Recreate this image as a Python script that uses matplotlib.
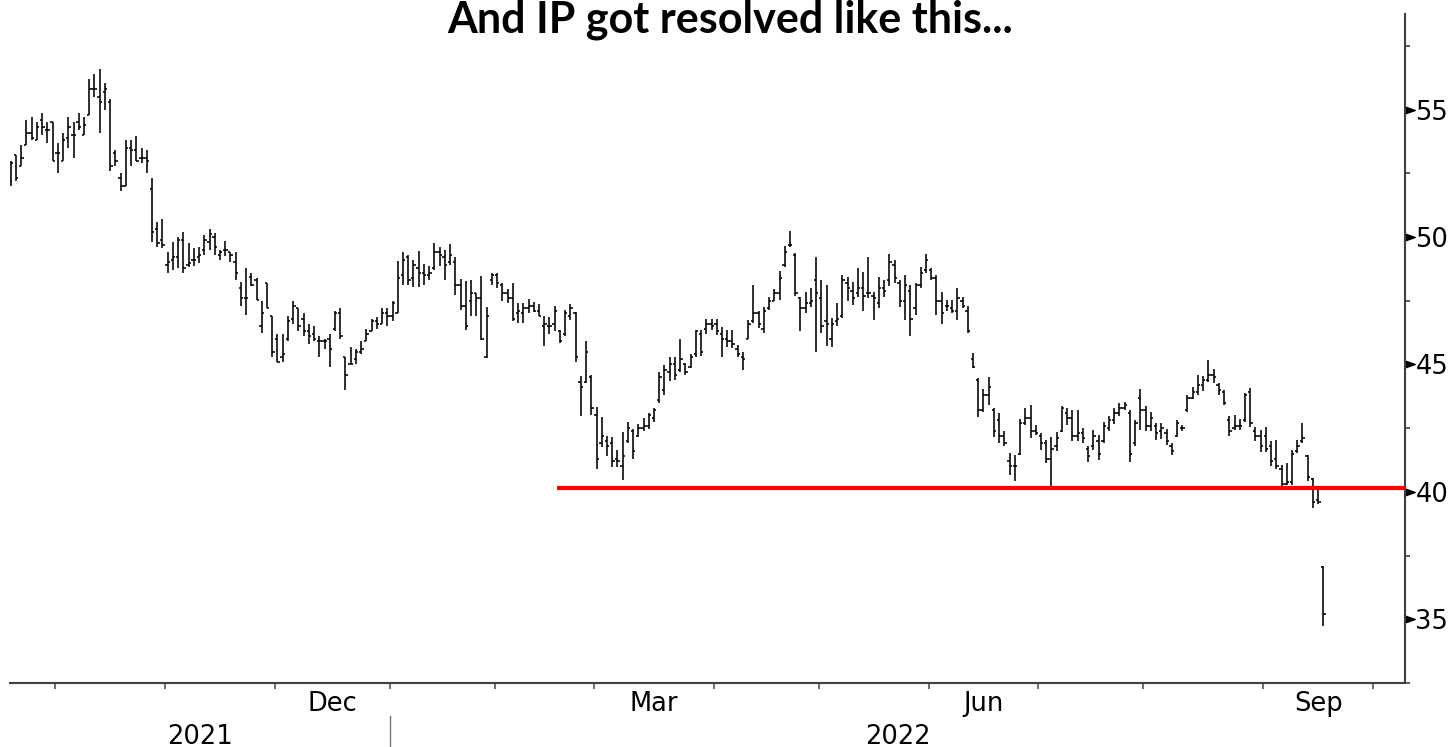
import numpy as np
import pandas as pd
import matplotlib
matplotlib.use("Agg")
import matplotlib.pyplot as plt
from matplotlib.collections import LineCollection
import matplotlib.transforms as mtransforms

plt.rcParams["font.family"] = "DejaVu Sans"

# IP daily bars from 20 Sep 2021
opens = [
    52.2, 53.2, 52.8, 53.6, 54.1, 53.8, 54.6, 54.2, 54.5, 53.3, 53.0, 53.9,
    54.0, 54.5, 54.0, 54.8, 55.8, 55.5, 55.7, 55.3, 53.3, 52.3, 52.0, 53.5,
    53.4, 53.1, 53.1, 51.9, 50.3, 49.9, 48.9, 49.1, 49.2, 49.9, 48.9, 49.1,
    49.2, 49.5, 49.8, 50.0, 49.3, 49.5, 49.4, 49.0, 48.0, 47.6, 48.45, 48.3,
    46.5, 48.2, 46.9, 46.0, 45.3, 46.0, 46.8, 47.2, 46.8, 46.3, 46.2, 45.9,
    45.9, 46.0, 46.4, 47.0, 45.3, 45.0, 45.2, 45.5, 45.9, 46.3, 46.7, 46.6,
    47.0, 46.9, 47.0, 48.5, 49.2, 48.4, 48.8, 48.6, 48.5, 48.8, 49.4, 49.2,
    49.0, 49.0, 48.1, 47.3, 47.5, 47.8, 47.6, 45.3, 48.3, 48.5, 48.1, 47.8,
    47.6, 47.0, 47.0, 47.2, 47.3, 47.1, 46.5, 46.5, 46.6, 46.3, 46.2, 46.9,
    47.0, 44.3, 44.3, 44.5, 43.0, 41.9, 42.0, 41.9, 41.3, 41.0, 42.0, 42.4,
    42.2, 42.5, 42.6, 42.9, 43.6, 44.0, 44.7, 45.0, 44.8, 45.0, 44.9, 45.4,
    46.2, 46.4, 46.6, 46.6, 46.2, 46.0, 45.9, 45.6, 45.3, 46.0, 46.7, 47.0,
    46.4, 47.2, 47.5, 47.8, 48.9, 49.7, 49.3, 47.6, 47.2, 47.4, 48.3, 47.6,
    46.7, 46.0, 46.7, 46.9, 48.2, 47.9, 47.8, 48.0, 47.8, 47.7, 47.4, 48.0,
    48.3, 48.9, 48.2, 47.5, 47.9, 47.2, 48.1, 48.7, 48.7, 48.4, 47.5, 47.3,
    47.2, 47.1, 47.5, 47.1, 45.2, 44.4, 43.2, 43.8, 43.2, 42.8, 42.2, 41.2,
    41.0, 41.5, 42.7, 42.9, 42.4, 42.2, 41.9, 41.3, 41.8, 42.4, 43.1, 42.9,
    42.2, 42.3, 41.7, 41.8, 42.0, 42.0, 42.5, 42.8, 43.1, 43.3, 43.1, 41.9,
    43.7, 43.2, 42.6, 42.6, 42.4, 42.3, 41.8, 42.2, 42.5, 43.2, 43.7, 43.9,
    44.2, 44.4, 44.6, 44.2, 43.9, 42.8, 42.5, 42.6, 42.8, 43.9, 42.4, 42.2,
    42.2, 41.8, 41.3, 40.9, 40.3, 40.4, 41.6, 42.0, 41.4, 40.5, 39.7, 37.05,
]
highs = [
    53.0, 53.2, 53.6, 54.6, 54.7, 54.5, 54.85, 54.5, 54.5, 53.7, 54.1, 54.7,
    54.5, 54.85, 54.7, 56.2, 56.4, 56.6, 56.05, 55.4, 53.4, 52.5, 53.8, 53.8,
    53.95, 53.5, 53.4, 52.3, 50.6, 50.7, 49.4, 49.8, 50.0, 50.2, 49.75, 49.56,
    49.6, 50.08, 50.3, 50.15, 49.5, 49.86, 49.4, 49.4, 48.25, 48.77, 48.58, 48.38,
    47.47, 48.2, 46.9, 46.2, 46.2, 46.9, 47.5, 47.2, 47.0, 46.6, 46.5, 46.1,
    46.0, 46.2, 47.1, 47.2, 45.3, 45.7, 45.6, 45.9, 46.4, 46.8, 46.85, 47.2,
    47.2, 47.5, 49.07, 49.4, 49.3, 49.1, 49.46, 48.94, 48.86, 49.75, 49.6, 49.5,
    49.72, 49.2, 48.37, 48.28, 48.33, 47.8, 48.46, 47.26, 48.57, 48.6, 48.2, 47.95,
    48.2, 47.4, 47.42, 47.55, 47.46, 47.37, 46.9, 46.85, 47.3, 46.35, 47.13, 47.37,
    47.07, 44.56, 45.9, 44.6, 43.34, 42.95, 42.2, 42.17, 41.64, 42.36, 42.75, 42.45,
    42.66, 42.88, 43.1, 43.3, 44.7, 44.98, 45.3, 45.3, 45.98, 45.07, 45.4, 46.35,
    46.35, 46.8, 46.8, 46.77, 46.48, 46.35, 46.35, 45.76, 45.5, 46.75, 48.12, 47.1,
    47.27, 47.64, 47.95, 48.68, 49.65, 50.25, 49.36, 47.66, 47.86, 47.99, 49.2, 48.32,
    48.12, 46.82, 47.4, 48.51, 48.45, 48.25, 48.77, 48.64, 49.2, 47.86, 48.45, 48.32,
    49.34, 49.1, 48.32, 48.51, 48.12, 48.2, 48.84, 49.34, 48.77, 48.51, 47.86, 47.53,
    47.53, 47.99, 47.66, 47.3, 45.44, 44.46, 44.03, 44.5, 43.28, 43.11, 42.37, 41.52,
    41.45, 42.85, 43.28, 43.41, 42.63, 42.3, 42.04, 42.17, 42.33, 43.37, 43.28, 43.2,
    43.2, 42.5, 41.78, 42.43, 42.24, 42.76, 42.98, 43.28, 43.48, 43.54, 43.2, 42.82,
    44.03, 43.35, 43.15, 42.69, 42.69, 42.46, 41.91, 42.82, 42.63, 43.8, 44.13, 44.59,
    44.55, 45.18, 44.81, 44.26, 43.98, 42.98, 43.02, 42.85, 43.87, 44.07, 42.56, 42.43,
    42.54, 41.98, 42.02, 41.06, 41.13, 41.65, 42.04, 42.7, 41.45, 40.54, 40.08, 37.1,
]
lows = [
    52.0, 52.2, 52.8, 53.6, 53.8, 53.8, 54.0, 53.7, 53.0, 52.5, 53.0, 53.5,
    53.1, 54.2, 54.0, 54.8, 55.5, 54.1, 55.0, 52.6, 52.8, 51.8, 52.0, 52.8,
    53.0, 52.9, 52.5, 49.8, 49.6, 49.55, 48.6, 48.7, 48.8, 48.6, 48.84, 48.87,
    48.97, 49.3, 49.5, 49.3, 49.1, 49.26, 49.0, 48.3, 47.3, 46.95, 48.06, 47.53,
    46.23, 47.2, 45.3, 45.1, 45.1, 45.9, 46.6, 46.3, 46.1, 45.8, 45.9, 45.3,
    45.6, 44.9, 46.3, 46.0, 44.0, 45.0, 45.0, 45.4, 45.9, 46.3, 46.4, 46.6,
    46.5, 46.7, 47.0, 48.1, 48.1, 48.05, 48.05, 48.1, 48.3, 48.7, 48.86, 48.33,
    48.9, 47.72, 47.13, 46.37, 46.9, 46.9, 45.96, 45.24, 48.1, 48.0, 47.5, 47.4,
    46.7, 46.64, 46.64, 47.0, 47.07, 46.9, 45.72, 46.2, 46.3, 45.83, 46.1, 46.74,
    45.1, 42.98, 44.26, 43.0, 40.89, 41.77, 41.4, 40.96, 40.96, 40.47, 41.9, 41.3,
    42.17, 42.4, 42.45, 42.75, 43.5, 43.8, 44.36, 44.39, 44.7, 44.6, 44.85, 45.3,
    45.33, 46.2, 46.35, 46.15, 45.3, 45.7, 45.63, 45.3, 44.79, 46.0, 46.62, 46.42,
    46.23, 47.14, 47.47, 47.53, 48.84, 49.62, 47.69, 46.33, 47.01, 47.27, 45.47, 46.23,
    45.73, 45.7, 46.51, 46.81, 47.47, 47.34, 47.66, 47.08, 47.6, 46.75, 47.21, 47.66,
    48.06, 48.19, 47.27, 46.75, 46.12, 46.95, 47.99, 48.58, 48.32, 46.95, 46.59, 47.08,
    47.01, 46.75, 47.21, 46.25, 44.86, 42.93, 43.15, 43.4, 42.17, 41.91, 41.78, 40.67,
    40.41, 41.45, 42.63, 42.1, 42.24, 41.65, 41.13, 40.21, 41.62, 42.33, 42.63, 41.98,
    41.98, 41.91, 41.19, 41.65, 41.26, 41.91, 42.37, 42.67, 42.98, 43.22, 41.19, 41.8,
    42.43, 42.37, 42.37, 42.04, 42.06, 41.84, 41.45, 42.17, 42.4, 43.15, 43.64, 43.8,
    43.94, 44.33, 44.29, 43.8, 43.41, 42.2, 42.43, 42.43, 42.76, 42.56, 42.01, 41.55,
    41.58, 41.0, 40.89, 40.21, 40.28, 40.28, 41.52, 41.91, 40.41, 39.36, 39.53, 34.72,
]
closes = [
    52.9, 52.3, 53.1, 54.1, 53.9, 54.3, 54.3, 54.2, 53.0, 53.3, 53.8, 54.3,
    54.0, 54.3, 54.4, 55.8, 55.8, 55.3, 55.8, 52.8, 53.0, 52.0, 53.5, 53.4,
    53.0, 53.1, 53.0, 50.2, 49.75, 49.7, 49.0, 49.2, 49.9, 48.8, 48.97, 49.1,
    49.3, 49.9, 50.1, 49.6, 49.4, 49.5, 49.3, 48.6, 47.6, 47.6, 48.1, 47.53,
    47.0, 47.2, 45.5, 45.1, 45.4, 46.7, 47.3, 46.5, 46.3, 46.1, 46.0, 45.9,
    45.9, 45.6, 47.0, 46.1, 44.6, 45.0, 45.5, 45.6, 46.2, 46.7, 46.6, 47.0,
    46.9, 47.4, 48.4, 49.1, 48.3, 48.9, 48.6, 48.5, 48.6, 49.4, 49.3, 48.9,
    49.3, 48.1, 47.3, 46.5, 47.8, 47.6, 46.0, 46.9, 48.5, 48.2, 47.8, 47.6,
    46.8, 47.1, 47.2, 47.3, 47.1, 46.9, 46.6, 46.5, 47.1, 45.9, 47.0, 47.2,
    45.3, 44.1, 45.5, 43.3, 41.3, 42.2, 41.8, 41.2, 41.2, 41.4, 42.5, 41.6,
    42.5, 42.6, 43.0, 43.2, 44.5, 44.8, 45.0, 44.6, 45.2, 44.7, 45.3, 46.3,
    45.5, 46.6, 46.5, 46.3, 46.0, 45.9, 45.8, 45.4, 45.2, 46.6, 47.0, 46.6,
    47.1, 47.5, 47.8, 48.4, 49.4, 49.7, 47.8, 47.2, 47.4, 47.5, 47.8, 46.5,
    46.6, 46.6, 46.8, 48.3, 48.0, 47.6, 48.0, 47.7, 47.8, 47.6, 48.0, 47.9,
    49.0, 48.4, 47.5, 48.1, 46.8, 48.1, 48.6, 49.1, 48.4, 47.5, 47.0, 47.3,
    47.1, 47.6, 47.3, 46.3, 44.9, 43.2, 43.8, 44.1, 42.4, 42.2, 41.9, 41.0,
    41.0, 42.7, 42.9, 42.4, 42.3, 41.9, 41.3, 41.7, 42.1, 43.3, 42.9, 42.2,
    42.3, 42.1, 41.4, 42.2, 41.5, 42.6, 42.8, 43.1, 43.3, 43.4, 41.5, 42.7,
    43.2, 42.6, 42.9, 42.3, 42.5, 42.0, 41.6, 42.7, 42.5, 43.7, 43.9, 44.2,
    44.4, 44.6, 44.5, 44.0, 43.5, 42.4, 42.6, 42.6, 43.8, 42.7, 42.2, 41.8,
    41.7, 41.2, 41.0, 40.3, 40.4, 41.5, 41.8, 42.1, 40.6, 39.6, 39.6, 35.2,
]

first_day = "2021-09-20"
holidays = ["2021-11-25", "2021-12-24", "2022-01-17", "2022-02-21", "2022-04-15",
            "2022-05-30", "2022-06-20", "2022-07-04", "2022-09-05"]
month_labels = {12: "Dec", 3: "Mar", 6: "Jun", 9: "Sep"}
y_major = [35, 40, 45, 50, 55]
support = 40.15
support_from = "2022-02-16"
title = "And IP got resolved like this..."

# trading-day calendar (bars are spaced per session, not per calendar day)
days = pd.bdate_range(first_day, "2022-10-31")
days = days[~days.isin(pd.to_datetime(holidays))]

x = np.arange(len(closes))
w = 0.45
segs = []
for i in x:
    segs.append([(i, lows[i]), (i, highs[i])])
    segs.append([(i - w, opens[i]), (i, opens[i])])
    segs.append([(i, closes[i]), (i + w, closes[i])])

fig = plt.figure(figsize=(14.55, 7.47), dpi=100)
ax = fig.add_axes([10 / 1455, 64 / 747, 1395 / 1455, 669 / 747])
ax.add_collection(LineCollection(segs, colors="black", linewidths=1.15, capstyle="butt"))

xmin, xmax = -0.15, 266.6
ax.set_xlim(xmin, xmax)
ax.set_ylim(32.5, 58.75)

# support line
sx = days.get_loc(pd.Timestamp(support_from)) + 0.5
ax.hlines(support, sx, xmax, color="#ff0000", linewidth=3, zorder=5)

# spines
for s in ["left", "top"]:
    ax.spines[s].set_visible(False)
for s in ["bottom", "right"]:
    ax.spines[s].set_color("#404040")
    ax.spines[s].set_linewidth(1.5)

# month boundaries and mid-month labels
starts = [0] + [k for k in range(1, len(days)) if days[k].month != days[k - 1].month] + [len(days)]
bounds = [k - 0.5 for k in starts[1:-1] if xmin < k - 0.5 < xmax]
ax.set_xticks(bounds)
ax.tick_params(axis="x", direction="out", length=4, width=1.2, color="#555555", labelbottom=False)

trans = mtransforms.blended_transform_factory(ax.transData, ax.transAxes)
for a, b in zip(starts[:-1], starts[1:]):
    m = days[a].month
    if m in month_labels and 0 < a < xmax:
        ax.text((a + b - 1) / 2, -0.042, month_labels[m], transform=trans,
                ha="center", va="baseline", fontsize=18.5)

jan = [k - 0.5 for k in starts[1:-1] if days[k].month == 1][0]
ax.text((xmin + jan) / 2, -0.091, str(days[0].year), transform=trans,
        ha="center", va="baseline", fontsize=18.5)
ax.text((jan + xmax) / 2, -0.091, str(days[0].year + 1), transform=trans,
        ha="center", va="baseline", fontsize=18.5)
ax.plot([jan, jan], [-0.05, -0.095], transform=trans, color="#777777",
        linewidth=1, clip_on=False)

# right price axis
ax.yaxis.tick_right()
ax.set_yticks(y_major)
ax.set_yticks(np.arange(32.5, 58.8, 2.5), minor=True)
ax.tick_params(axis="y", which="major", length=0, pad=7.5, labelsize=18.5)
ax.tick_params(axis="y", which="minor", direction="out", length=3.5, width=1.2, color="#404040")
tri = [(0, -0.35), (1, 0), (0, 0.35), (0, -0.35)]
ytrans = mtransforms.blended_transform_factory(ax.transAxes, ax.transData)
ax.plot([1] * len(y_major), y_major, linestyle="none", marker=tri, markersize=14,
        color="black", transform=ytrans, clip_on=False)

fig.text(0.502, 1 - 32 / 747, title, ha="center", va="baseline",
         fontsize=31, fontweight="bold", family="Lato")

fig.savefig("out.png", dpi=100)
